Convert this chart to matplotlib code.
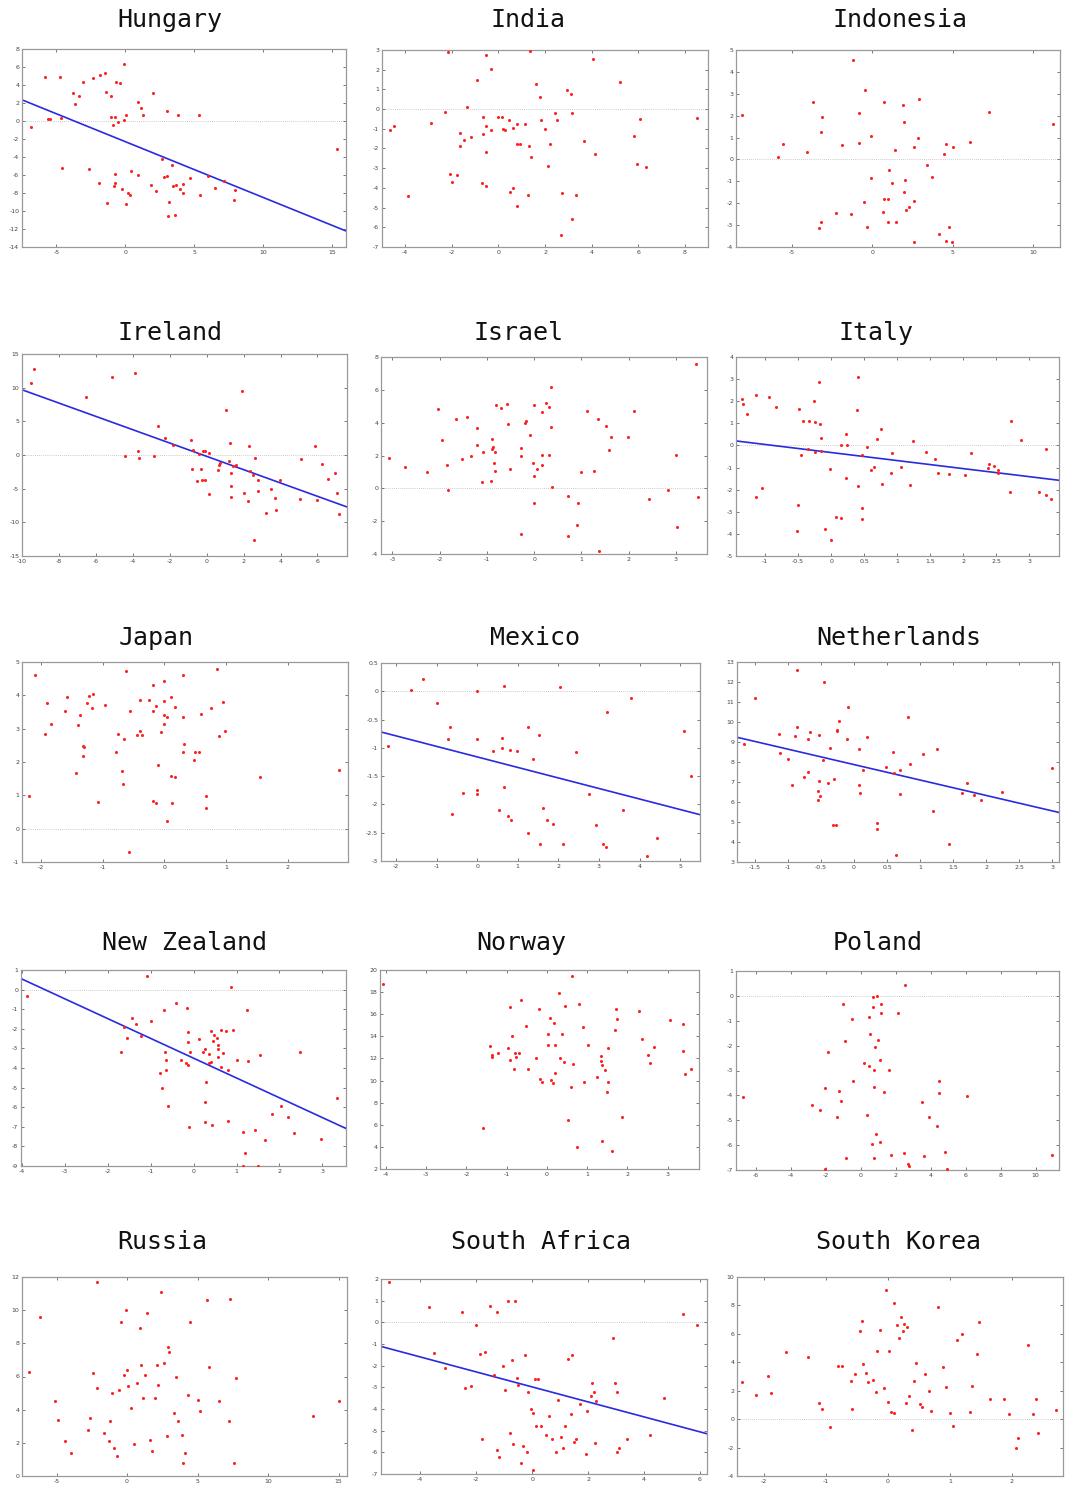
import numpy as np
import matplotlib
matplotlib.use('Agg')
import matplotlib.pyplot as plt
from matplotlib.ticker import MultipleLocator, FormatStrFormatter

# data
hungary_x = [-6.87, -5.86, -4.77, -5.59, -5.45, -4.67, -4.63, -3.83, -3.69, -3.35, -3.04, -2.65, -2.34, -1.86,
             -1.45, -1.40, -1.08, -1.88, -1.33, -1.04, -0.89, -0.75, -0.67, -0.77, -0.72, -0.80, -0.53, -0.36,
             -0.27, -0.07, -0.07, 0.02, 0.07, 0.22, 0.34, 0.43, 0.89, 0.92, 1.11, 1.28, 1.83, 2.02, 2.24, 2.63,
             2.82, 3.01, 3.04, 3.08, 3.18, 3.40, 3.47, 3.57, 3.66, 3.83, 3.95, 4.19, 4.19, 4.65, 5.37, 5.42,
             6.02, 6.48, 7.18, 7.86, 7.98, 15.37]
hungary_y = [-0.70, 4.84, 4.92, 0.22, 0.18, 0.37, -5.21, 3.14, 1.89, 2.81, 4.36, -5.36, 4.77, 5.10,
             5.36, 3.25, 2.81, -6.84, -9.13, 0.48, -0.48, 0.44, 4.33, -5.84, -6.84, -7.21, -0.11, 4.25,
             -7.58, 6.32, 0.07, 0.67, -9.24, -8.02, -8.17, -5.55, 2.07, -5.99, 1.44, 0.70, -7.06, 3.11, -7.73, -4.21,
             -6.25, -6.06, 1.11, -10.61, -9.02, -4.88, -7.17, -10.43, -7.10, 0.67, -7.50, -6.99, -7.95, -6.36, 0.70, -8.24,
             -6.06, -7.47, -6.62, -8.76, -7.62, -3.14]

india_x = [-4.67, -4.47, -3.89, -2.91, -2.30, -2.18, -2.06, -2.01, -1.76, -1.63, -1.63, -1.46, -1.35, -1.16,
           -0.92, -0.67, -0.67, -0.71, -0.55, -0.52, -0.52, -0.54, -0.33, -0.30, -0.03, 0.16, 0.18, 0.30, 0.47,
           0.51, 0.62, 0.64, 0.78, 0.81, 0.78, 0.94, 1.12, 1.29, 1.30, 1.36, 1.38, 1.63, 1.80, 1.83, 1.99, 2.13,
           2.23, 2.43, 2.51, 2.67, 2.75, 2.96, 3.13, 3.16, 3.16, 3.32, 3.67, 4.06, 4.16, 5.21, 5.84, 5.96, 6.08,
           6.35, 8.52]
india_y = [-1.08, -0.85, -4.39, -0.73, -0.17, 2.90, -3.29, -3.69, -3.37, -1.20, -1.88, -1.59, 0.12, -1.42,
           1.46, -0.41, -1.24, -3.76, 2.73, -0.85, -2.20, -3.88, -1.05, 2.03, -0.39, -0.42, -1.03, -1.07, -0.53,
           -4.22, -0.98, -4.02, -1.76, -0.75, -4.90, -1.76, -0.75, -4.37, -1.85, 2.95, -2.42, 1.27, 0.59, -0.54, -1.00, -2.90,
           -1.75, -0.19, -0.56, -6.41, -4.24, 0.95, 0.75, -0.19, -5.58, -4.36, -1.61, 2.53, -2.29, 1.37, -1.37, -2.78, -0.51,
           -2.93, -0.44]

indonesia_x = [-8.13, -5.88, -5.58, -4.06, -3.73, -3.31, -3.19, -3.21, -3.13, -2.27, -1.92, -1.31, -1.23, -0.83,
               -0.83, -0.54, -0.44, -0.35, -0.08, -0.06, 0.69, 0.73, 0.71, 0.96, 0.98, 1.02, 1.21, 1.44, 1.48, 1.94,
               1.96, 1.98, 2.04, 2.10, 2.29, 2.58, 2.60, 2.60, 2.83, 2.90, 3.40, 3.73, 4.17, 4.48, 4.58, 4.58, 4.79,
               4.94, 5.00, 6.10, 7.29, 11.25]
indonesia_y = [2.01, 0.09, 0.71, 0.35, 2.64, -3.13, -2.87, 1.25, 1.96, -2.45, 0.68, -2.48, 4.56, 2.14,
               0.74, -1.96, 3.16, -3.07, 1.08, -0.87, -2.40, 2.61, -1.79, -1.79, -2.87, -0.50, -1.09, 0.41, -2.87, 2.49,
               1.70, -1.50, -0.94, -2.33, -2.17, -1.91, 0.55, -3.75, 0.99, 2.74, -0.27, -0.79, -3.39, 0.27, 0.71, -3.71, -3.09,
               -3.75, 0.59, 0.81, 2.19, 1.64]

ireland_x = [-9.51, -9.37, -6.56, -5.14, -4.43, -3.86, -3.73, -3.64, -2.86, -2.61, -2.23, -1.80, -0.85, -0.81,
             -0.74, -0.54, -0.43, -0.31, -0.25, -0.22, -0.09, -0.07, 0.11, 0.13, 0.59, 0.67, 0.70, 1.06, 1.23, 1.28,
             1.32, 1.30, 1.30, 1.42, 1.59, 1.89, 2.00, 2.23, 2.27, 2.36, 2.52, 2.59, 2.63, 2.76, 2.79, 3.21, 3.46,
             3.71, 3.77, 3.98, 5.05, 5.12, 5.86, 5.98, 6.22, 6.56, 6.95, 7.08, 7.15]
ireland_y = [10.70, 12.84, 8.66, 11.64, -0.20, 12.24, 0.60, -0.45, -0.15, 4.33, 2.49, 1.54, 2.19, -2.14,
             0.80, -3.83, 0.20, -2.14, -3.68, 0.60, 0.60, -3.68, 0.25, -5.72, -2.24, -1.54, -1.24, 6.62, -0.95, 1.79,
             -2.74, -4.58, -6.27, -1.64, -1.54, 9.50, -5.67, -6.82, 1.29, -2.44, -2.99, -12.69, -0.50, -3.73, -5.42, -8.61, -4.98,
             -6.32, -8.16, -3.73, -6.47, -0.55, 1.29, -6.62, -1.29, -3.53, -2.69, -5.62, -8.71]

israel_x = [-3.08, -2.73, -2.26, -2.04, -1.95, -1.85, -1.83, -1.66, -1.52, -1.42, -1.33, -1.21, -1.21, -1.09,
            -1.10, -0.91, -0.90, -0.89, -0.88, -0.84, -0.83, -0.83, -0.81, -0.71, -0.57, -0.55, -0.50, -0.27, -0.27,
            -0.27, -0.20, -0.18, -0.08, -0.01, -0.02, -0.01, -0.01, 0.07, 0.16, 0.16, 0.17, 0.26, 0.32, 0.32, 0.35,
            0.35, 0.38, 0.71, 0.72, 0.90, 0.93, 0.99, 1.12, 1.26, 1.35, 1.38, 1.53, 1.59, 1.62, 1.98, 2.11, 2.43,
            2.84, 3.00, 3.03, 3.43, 3.48]
israel_y = [1.82, 1.32, 0.97, 4.84, 2.94, 1.42, -0.12, 4.23, 1.78, 4.33, 1.98, 3.68, 2.67, 2.23,
            0.40, 0.47, 2.41, 2.98, 2.53, 1.54, 1.07, 2.23, 5.06, 4.88, 5.14, 3.93, 1.19, -2.79, 2.47,
            2.00, 4.01, 4.13, 3.24, 5.08, 1.52, 0.77, -0.87, 1.15, 2.02, 1.40, 4.64, 5.22, 4.94, 2.04, 3.74,
            6.15, 0.10, -0.47, -2.91, -2.23, -0.87, 1.01, 4.70, 1.07, 4.23, -3.81, 3.77, 2.33, 3.10, 3.10, 4.74, -0.65,
            -0.08, 2.02, -2.37, 7.57, -0.55]

italy_x = [-1.35, -1.33, -1.28, -1.14, -1.14, -1.05, -0.94, -0.83, -0.52, -0.49, -0.50, -0.46, -0.42, -0.35,
           -0.33, -0.26, -0.25, -0.24, -0.18, -0.17, -0.16, -0.15, -0.09, -0.01, 0.00, 0.08, 0.15, 0.15, 0.23,
           0.23, 0.24, 0.39, 0.41, 0.41, 0.47, 0.47, 0.47, 0.54, 0.61, 0.65, 0.70, 0.75, 0.77, 0.91, 0.92, 1.06,
           1.20, 1.24, 1.44, 1.57, 1.62, 1.78, 2.03, 2.12, 2.37, 2.39, 2.47, 2.53, 2.52, 2.72, 2.71, 2.87, 3.14,
           3.26, 3.26, 3.33]
italy_y = [2.09, 1.88, 1.42, 2.27, -2.33, -1.94, 2.20, 1.73, -3.89, 1.64, -2.70, -0.41, 1.11, -0.18,
           1.09, 2.00, 1.05, -0.29, 2.86, 0.97, 0.33, -0.23, -3.76, -1.08, -4.29, -3.23, 0.00, -3.27, 0.53,
           -1.45, 0.02, 1.61, -1.83, 3.08, -0.45, -2.85, -3.32, -0.05, -1.11, -0.98, 0.29, 0.76, -1.73, -1.26, -0.33, -0.98,
           -1.80, 0.20, -0.30, -0.61, -1.26, -1.29, -1.32, -0.33, -1.02, -0.85, -0.92, -1.11, -1.23, 1.12, -2.09, 0.24, -2.11,
           -0.18, -2.24, -2.41]

japan_x = [-2.20, -2.10, -1.94, -1.90, -1.84, -1.62, -1.58, -1.44, -1.40, -1.37, -1.32, -1.31, -1.32, -1.26,
           -1.22, -1.18, -1.15, -1.07, -0.96, -0.79, -0.76, -0.69, -0.67, -0.66, -0.62, -0.57, -0.55, -0.44, -0.39,
           -0.39, -0.37, -0.25, -0.19, -0.19, -0.19, -0.14, -0.14, -0.11, -0.06, -0.01, -0.01, -0.01, -0.01, 0.05,
           0.05, 0.11, 0.11, 0.12, 0.17, 0.18, 0.31, 0.31, 0.31, 0.32, 0.48, 0.49, 0.56, 0.59, 0.67, 0.68, 0.76,
           0.86, 0.88, 0.95, 0.99, 1.55, 2.83]
japan_y = [0.99, 4.62, 2.85, 3.76, 3.13, 3.52, 3.94, 1.67, 3.11, 3.40, 2.49, 2.46, 2.18, 3.77,
           3.99, 3.62, 4.04, 0.80, 3.71, 2.30, 2.83, 1.73, 1.35, 2.70, 4.74, -0.69, 3.52, 2.80, 3.85,
           2.94, 2.81, 3.86, 4.32, 3.52, 0.82, 0.77, 3.68, 1.90, 2.91, 4.42, 3.83, 3.41, 3.15, 3.36,
           0.24, 3.96, 1.57, 0.77, 3.64, 1.54, 4.62, 3.34, 2.30, 2.54, 2.05, 2.29, 2.29, 3.44, 0.99, 0.62, 3.61,
           4.80, 2.79, 3.81, 2.93, 1.56, 1.76]

mexico_x = [-2.19, -1.63, -1.34, -0.98, -0.71, -0.66, -0.62, -0.35, -0.01, -0.01, -0.01, -0.01, 0.39, 0.53,
            0.62, 0.62, 0.65, 0.65, 0.76, 0.82, 0.84, 0.99, 1.25, 1.26, 1.38, 1.52, 1.55, 1.62, 1.73, 1.86, 2.03,
            2.12, 2.44, 2.76, 2.93, 3.09, 3.17, 3.19, 3.60, 3.78, 4.19, 4.44, 5.10, 5.27]
mexico_y = [-0.96, 0.02, 0.22, -0.21, -0.85, -0.64, -2.17, -1.80, 0.01, -0.84, -1.74, -1.82, -1.05, -2.09,
            -0.83, -1.01, 0.09, -1.70, -2.20, -1.04, -2.28, -1.05, -2.51, -0.64, -1.20, -0.77, -2.70, -2.07, -2.28, -2.34, 0.08,
            -2.70, -1.08, -1.82, -2.36, -2.70, -2.75, -0.36, -2.09, -0.12, -2.91, -2.60, -0.70, -1.49]

netherlands_x = [-1.67, -1.50, -1.14, -1.12, -1.00, -0.94, -0.90, -0.87, -0.86, -0.75, -0.70, -0.69, -0.66, -0.54,
                 -0.54, -0.53, -0.53, -0.52, -0.47, -0.46, -0.39, -0.36, -0.32, -0.30, -0.28, -0.26, -0.26, -0.22,
                 -0.10, -0.09, 0.08, 0.08, 0.09, 0.13, 0.20, 0.35, 0.35, 0.49, 0.59, 0.61, 0.64, 0.69, 0.70, 0.81,
                 0.85, 1.05, 1.19, 1.26, 1.44, 1.63, 1.71, 1.81, 1.92, 2.24, 2.99]
netherlands_y = [8.89, 11.18, 9.40, 8.47, 8.17, 6.83, 9.29, 9.77, 12.62, 7.23, 7.50, 9.17, 9.50, 6.53,
                 6.08, 7.06, 9.34, 6.31, 8.08, 12.01, 6.96, 8.72, 4.84, 7.15, 4.86, 9.62, 9.56, 10.06,
                 9.17, 10.76, 8.65, 6.85, 6.43, 7.62, 9.27, 4.97, 4.66, 7.75, 8.50, 7.46, 3.35, 6.40, 7.62, 10.26,
                 7.90, 8.38, 5.56, 8.67, 3.92, 6.46, 6.93, 6.36, 6.08, 6.51, 7.70]

new_zealand_x = [-3.88, -1.68, -1.61, -1.54, -1.44, -1.33, -1.22, -1.09, -0.99, -0.78, -0.73, -0.69, -0.67, -0.64,
                 -0.64, -0.59, -0.41, -0.29, -0.18, -0.15, -0.13, -0.12, -0.12, -0.10, -0.08, 0.12, 0.21, 0.26, 0.26,
                 0.27, 0.28, 0.35, 0.36, 0.40, 0.40, 0.44, 0.45, 0.48, 0.55, 0.57, 0.57, 0.58, 0.63, 0.64, 0.69, 0.75,
                 0.81, 0.81, 0.88, 0.91, 1.01, 1.14, 1.16, 1.20, 1.25, 1.26, 1.44, 1.49, 1.54, 1.66, 1.82, 2.03, 2.20,
                 2.33, 2.47, 2.96, 3.35]
new_zealand_y = [-0.31, -3.18, -1.92, -2.45, -1.43, -1.77, -2.38, 0.71, -1.58, -4.23, -5.03, -1.02, -3.20, -3.59,
                 -4.10, -5.94, -0.66, -3.57, -3.76, -0.94, -2.18, -2.69, -3.84, -7.01, -3.20, -2.53, -3.18, -5.73, -6.73,
                 -3.04, -4.69, -3.27, -3.72, -3.67, -2.13, -6.92, -2.62, -2.33, -2.45, -2.84, -3.01, -3.42, -2.04, -3.95, -3.25, -2.11,
                 -4.10, -6.72, 0.15, -2.06, -3.61, -7.28, -8.98, -8.35, -1.02, -3.66, -7.16, -9.00, -3.32, -7.65, -6.34, -5.95, -6.51,
                 -7.33, -3.16, -7.64, -5.53]

norway_x = [-4.08, -1.60, -1.42, -1.37, -1.37, -1.22, -0.98, -0.91, -0.91, -0.86, -0.83, -0.79, -0.78, -0.70,
            -0.65, -0.52, -0.47, -0.26, -0.20, -0.17, -0.12, 0.02, 0.02, 0.07, 0.11, 0.15, 0.17, 0.19, 0.19, 0.30,
            0.32, 0.38, 0.42, 0.45, 0.52, 0.60, 0.63, 0.65, 0.75, 0.79, 0.89, 0.92, 1.03, 1.24, 1.34, 1.35, 1.36,
            1.37, 1.44, 1.50, 1.52, 1.52, 1.62, 1.70, 1.71, 1.75, 1.87, 2.30, 2.36, 2.52, 2.57, 2.65, 3.07, 3.38,
            3.38, 3.43, 3.57]
norway_y = [18.73, 5.69, 13.16, 12.29, 12.14, 12.47, 12.98, 11.87, 16.63, 14.04, 11.08, 12.47, 12.11, 12.53,
            17.26, 14.91, 11.02, 12.05, 16.45, 10.15, 9.85, 14.25, 13.19, 15.63, 10.03, 9.79, 15.24, 13.25, 10.72, 17.92,
            12.05, 14.19, 11.66, 16.75, 6.39, 9.43, 19.46, 11.51, 3.98, 16.90, 14.82, 9.88, 13.22, 10.36, 12.20, 11.81, 4.55,
            11.39, 10.96, 8.98, 9.88, 12.92, 3.61, 14.61, 16.45, 15.57, 6.66, 16.30, 13.77, 12.32, 11.63, 13.04, 15.48, 15.12,
            12.71, 10.63, 11.08]

poland_x = [-6.73, -2.82, -2.36, -2.04, -1.91, -2.06, -1.37, -1.26, -1.16, -1.01, -0.92, -0.88, -0.53, -0.44,
            0.19, 0.36, 0.44, 0.44, 0.53, 0.63, 0.69, 0.69, 0.74, 0.74, 0.76, 0.80, 0.88, 0.93, 0.99, 1.07, 1.09,
            1.14, 1.16, 1.33, 1.58, 1.73, 2.14, 2.48, 2.55, 2.69, 2.76, 3.47, 3.62, 3.87, 4.35, 4.48, 4.48, 4.84,
            4.92, 6.06, 10.96]
poland_y = [-4.06, -4.37, -4.59, -6.94, -2.26, -3.72, -4.85, -3.84, -4.21, -0.31, -1.80, -6.50, -0.92, -3.41,
            -2.70, -4.80, -0.83, -2.82, -1.54, -5.96, -0.05, -0.44, -2.97, -3.65, -6.51, -2.07, -5.55, 0.01, -1.79, -5.86, -2.57,
            -0.31, -0.70, -3.86, -2.98, -6.39, -0.68, -6.31, 0.43, -6.74, -6.84, -4.28, -6.43, -4.85, -5.24, -3.90, -3.44, -6.28,
            -6.94, -4.02, -6.39]

russia_x = [-6.95, -6.2, -5.1, -4.9, -4.4, -4.0, -2.8, -2.6, -2.1, -2.1, -2.4, -1.6, -1.3, -1.2, -1.1, -0.9,
            -0.7, -0.6, -0.4, -0.1, -0.2, 0.0, 0.1, 0.3, 0.5, 0.7, 0.9, 1.0, 1.1, 1.3, 1.4, 1.6, 1.8, 2.0, 2.1,
            2.2, 2.4, 2.6, 2.8, 2.9, 3.0, 3.3, 3.5, 3.6, 3.9, 4.0, 4.1, 4.3, 4.5, 5.0, 5.2, 5.7, 5.8, 6.5, 7.2,
            7.3, 7.6, 7.7, 13.2, 15.0]
russia_y = [6.3, 9.6, 4.5, 3.4, 2.1, 1.4, 2.8, 3.5, 11.7, 5.3, 6.2, 2.6, 2.1, 3.3, 5.0, 1.7,
            1.2, 5.2, 9.3, 10.0, 6.1, 6.4, 5.4, 4.1, 1.9, 5.6, 8.9, 6.7, 4.7, 6.1, 9.8, 2.2, 1.5, 4.7, 6.7,
            5.5, 11.1, 6.8, 2.4, 7.8, 7.5, 3.8, 6.0, 3.3, 2.5, 0.8, 1.4, 4.9, 9.3, 4.6, 3.9, 10.6, 6.6, 4.5, 3.3,
            10.7, 0.8, 5.9, 3.6, 4.5]

south_africa_x = [-5.1, -3.7, -3.5, -3.1, -2.5, -2.4, -2.2, -2.0, -1.86, -1.8, -1.7, -1.5, -1.36, -1.25, -1.25,
                  -1.2, -1.04, -0.96, -0.86, -0.8, -0.71, -0.7, -0.6, -0.54, -0.5, -0.4, -0.32, -0.25, -0.18, -0.14,
                  -0.04, 0.04, 0.04, 0.1, 0.14, 0.2, 0.3, 0.5, 0.6, 0.7, 0.86, 0.93, 1.04, 1.1, 1.18, 1.29, 1.4, 1.43,
                  1.5, 1.57, 1.7, 1.93, 1.96, 2.1, 2.14, 2.2, 2.25, 2.3, 2.9, 2.96, 3.04, 3.04, 3.1, 3.4, 4.2, 4.7,
                  5.4, 5.9]
south_africa_y = [1.85, 0.7, -1.4, -2.1, 0.46, -3.05, -2.95, -0.14, -1.48, -5.4, -1.35, 0.74, -2.45, 0.5, -5.9,
                  -6.2, -2.0, -3.1, 0.97, -5.1, -1.76, -5.6, 1.0, -2.55, -2.87, -6.5, -5.7, -1.5, -6.0, -3.2,
                  -4.0, -6.8, -4.2, -2.6, -4.8, -2.6, -4.8, -5.2, -4.3, -5.4, -6.0, -3.6, -5.3, -5.8, -4.8, -1.67, -4.25, -1.5,
                  -5.5, -5.4, -3.75, -6.06, -4.07, -3.4, -2.8, -3.2, -5.55, -3.65, -0.7, -2.8, -3.2, -5.97, -5.8, -5.4, -5.2, -3.5,
                  0.37, -0.1]

south_korea_x = [-2.36, -2.14, -1.94, -1.89, -1.65, -1.29, -1.12, -1.07, -0.94, -0.81, -0.74, -0.6, -0.58, -0.53,
                 -0.45, -0.42, -0.4, -0.36, -0.32, -0.24, -0.19, -0.18, -0.13, -0.06, -0.03, 0.0, 0.02, 0.05, 0.1,
                 0.1, 0.15, 0.18, 0.21, 0.24, 0.26, 0.29, 0.31, 0.34, 0.39, 0.42, 0.45, 0.52, 0.55, 0.6, 0.66, 0.7,
                 0.81, 0.89, 0.94, 1.0, 1.05, 1.12, 1.2, 1.33, 1.36, 1.44, 1.47, 1.65, 1.88, 1.96, 2.07, 2.1, 2.27,
                 2.35, 2.4, 2.43, 2.72]
south_korea_y = [2.6, 1.7, 3.05, 1.85, 4.7, 4.4, 1.13, 0.7, -0.57, 3.76, 3.76, 2.7, 0.7, 3.2,
                 6.2, 6.9, 3.9, 3.26, 2.6, 2.77, 1.9, 4.8, 6.24, 2.2, 9.1, 1.2, 4.8, 0.5, 0.43,
                 8.2, 6.6, 5.7, 7.2, 6.2, 6.7, 1.13, 6.45, 1.63, -0.78, 2.7, 3.97, 1.06, 0.85, 3.2, 2.0, 0.57,
                 7.9, 3.7, 2.27, 0.43, -0.5, 5.6, 6.0, 0.5, 2.34, 4.6, 6.8, 1.42, 1.42, 0.35, -2.06, -1.35, 5.25,
                 0.35, 1.42, -1.0, 0.64]

# fitted lines as drawn in the reference: (slope, intercept)
fit_lines = {
    'Hungary': (-0.620, -2.30),
    'Ireland': (-0.989, -0.20),
    'Italy': (-0.364, -0.32),
    'Mexico': (-0.186, -1.16),
    'Netherlands': (-0.772, 7.87),
    'New Zealand': (-1.01, -3.50),
    'South Africa': (-0.346, -2.98),
}

countries = ['Hungary', 'India', 'Indonesia', 'Ireland', 'Israel', 'Italy', 'Japan', 'Mexico',
             'Netherlands', 'New Zealand', 'Norway', 'Poland', 'Russia', 'South Africa', 'South Korea']
xs = [hungary_x, india_x, indonesia_x, ireland_x, israel_x, italy_x, japan_x, mexico_x,
      netherlands_x, new_zealand_x, norway_x, poland_x, russia_x, south_africa_x, south_korea_x]
ys = [hungary_y, india_y, indonesia_y, ireland_y, israel_y, italy_y, japan_y, mexico_y,
      netherlands_y, new_zealand_y, norway_y, poland_y, russia_y, south_africa_y, south_korea_y]

# layout: axes box in pixels (left, top, right, bottom), xlim, ylim, xstep, ystep, title centre (x, y)
W, H = 1065, 1490
layout = [
    ((22, 49, 346, 247), (-7.5, 16), (-14, 8), 5, 2, (170, 20)),
    ((382, 50, 708, 247), (-5, 9), (-7, 3), 2, 1, (528, 20)),
    ((736, 50, 1060, 247), (-8.5, 11.7), (-4, 5), 5, 1, (900, 20)),
    ((22, 354, 347, 556), (-10, 7.6), (-15, 15), 2, 5, (170, 333)),
    ((381, 357, 707, 554), (-3.24, 3.66), (-4, 8), 1, 2, (519, 333)),
    ((736, 357, 1059, 556), (-1.44, 3.45), (-5, 4), 0.5, 1, (876, 333)),
    ((22, 662, 348, 862), (-2.31, 2.98), (-1, 5), 1, 1, (156, 638)),
    ((381, 663, 700, 861), (-2.37, 5.49), (-3, 0.5), 1, 0.5, (535, 638)),
    ((737, 662, 1059, 862), (-1.77, 3.1), (3, 13), 0.5, 1, (899, 638)),
    ((21, 970, 346, 1166), (-4.02, 3.55), (-9, 1), 1, 1, (185, 943)),
    ((380, 970, 699, 1169), (-4.15, 3.78), (2, 20), 1, 2, (521, 943)),
    ((736, 971, 1059, 1170), (-7.15, 11.34), (-7, 1), 2, 1, (878, 943)),
    ((22, 1277, 347, 1476), (-7.45, 15.6), (0, 12), 5, 2, (162, 1242)),
    ((381, 1279, 707, 1474), (-5.4, 6.25), (-7, 2), 2, 1, (541, 1242)),
    ((737, 1277, 1063, 1476), (-2.44, 2.83), (-4, 10), 1, 2, (898, 1242)),
]

fig = plt.figure(figsize=(W / 100, H / 100), dpi=100)
fig.patch.set_facecolor('white')

for name, x, y, lay in zip(countries, xs, ys, layout):
    (l, t, r, b), xlim, ylim, xstep, ystep, (tx, ty) = lay
    ax = fig.add_axes([l / W, 1 - b / H, (r - l) / W, (b - t) / H])
    ax.axhline(0, color='#bbbbbb', linewidth=0.6, linestyle=(0, (1, 1.5)), zorder=1)
    ax.plot(x, y, linestyle='none', marker='o', markersize=2.2, markeredgewidth=0,
            color='#ff2020', zorder=3)
    if name in fit_lines:
        m, c = fit_lines[name]
        lx = np.array(xlim)
        ax.plot(lx, m * lx + c, color='#2a2ae0', linewidth=1.2, zorder=2)
    ax.set_xlim(xlim)
    ax.set_ylim(ylim)
    ax.xaxis.set_major_locator(MultipleLocator(xstep))
    ax.yaxis.set_major_locator(MultipleLocator(ystep))
    ax.xaxis.set_major_formatter(FormatStrFormatter('%g'))
    ax.yaxis.set_major_formatter(FormatStrFormatter('%g'))
    ax.tick_params(direction='in', length=2, width=0.5, labelsize=4.5, pad=2,
                   colors='#444444', top=True, right=True)
    for s in ax.spines.values():
        s.set_color('#999999')
        s.set_linewidth(0.9)
    fig.text(tx / W, 1 - ty / H, name, ha='center', va='center',
             fontsize=18, family='DejaVu Sans Mono', color='#111111')

fig.savefig('out.png', dpi=100)
